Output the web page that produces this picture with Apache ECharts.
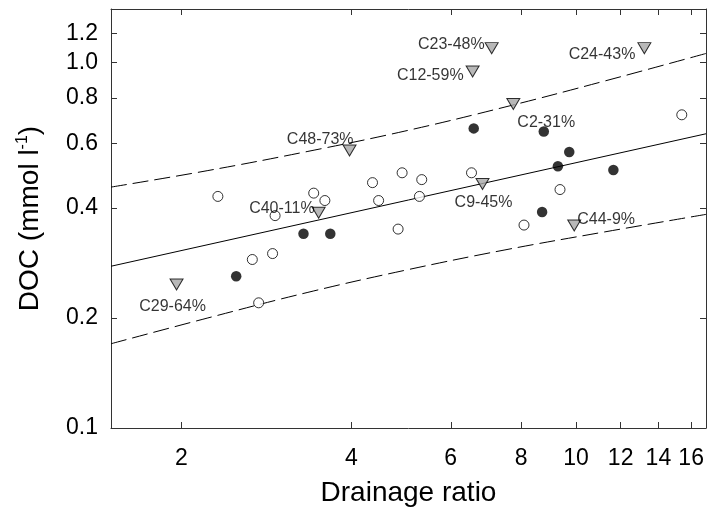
<!DOCTYPE html>
<html>
<head>
<meta charset="utf-8">
<script src="https://cdn.jsdelivr.net/npm/echarts@6/dist/echarts.min.js"></script>
<style>
html,body{margin:0;padding:0;background:#fff;}
#chart{width:707px;height:509px;}
</style>
</head>
<body>
<div id="chart"></div>
<script>
// ---- data (raw units: drainage ratio, DOC mmol/l) ----
var xTicks = [2, 4, 6, 8, 10, 12, 14, 16];
var yTicks = [0.1, 0.2, 0.4, 0.6, 0.8, 1.0, 1.2];

var openX = [2.32, 2.67, 2.74, 2.90, 2.93, 3.43, 3.59, 4.36, 4.47, 4.84, 4.92, 5.28, 5.33, 6.53, 8.09, 9.37, 15.4];
var openY = [0.430, 0.289, 0.220, 0.300, 0.381, 0.439, 0.419, 0.469, 0.419, 0.350, 0.499, 0.430, 0.478, 0.499, 0.359, 0.449, 0.719];

var filledX = [2.50, 3.29, 3.67, 6.59, 8.71, 8.77, 9.29, 9.73, 11.65];
var filledY = [0.260, 0.340, 0.340, 0.660, 0.390, 0.647, 0.520, 0.569, 0.508];

var triX = [1.96, 3.50, 3.97, 6.56, 7.09, 6.83, 7.745, 13.22, 9.93];
var triY = [0.247, 0.388, 0.574, 0.944, 1.094, 0.465, 0.770, 1.094, 0.358];
var triLabels = ['C29-64%', 'C40-11%', 'C48-73%', 'C12-59%', 'C23-48%', 'C9-45%', 'C2-31%', 'C24-43%', 'C44-9%'];

var fitX = [1.5, 17];
var fitY = [0.277, 0.638];

var upperX = [1.5, 2.227, 3.35, 4.977, 7.485, 11.26, 17];
var upperY = [0.456, 0.506, 0.571, 0.649, 0.755, 0.890, 1.058];

var lowerX = [1.5, 2.227, 3.35, 4.977, 7.485, 11.26, 17];
var lowerY = [0.170, 0.200, 0.235, 0.270, 0.307, 0.344, 0.384];

// ---- label placement (style, not data) ----
var labelPlace = {
  'C29-64%': {align: 'center', offset: [-4, 22]},
  'C40-11%': {align: 'right',  offset: [-4, -4]},
  'C48-73%': {align: 'right',  offset: [4, -11]},
  'C12-59%': {align: 'right',  offset: [-9, 4]},
  'C23-48%': {align: 'right',  offset: [-7, -4]},
  'C9-45%':  {align: 'center', offset: [1, 19]},
  'C2-31%':  {align: 'left',   offset: [4, 19]},
  'C24-43%': {align: 'right',  offset: [-9, 6]},
  'C44-9%':  {align: 'left',   offset: [3, -6]}
};

var L = Math.log10;
function pairs(xs, ys) { return xs.map(function (x, i) { return [L(x), L(ys[i])]; }); }
var font = 'Liberation Sans';

var triData = triX.map(function (x, i) {
  var p = labelPlace[triLabels[i]];
  return {
    value: [L(x), L(triY[i])],
    label: {
      show: true, formatter: triLabels[i], position: 'inside',
      align: p.align, verticalAlign: 'middle', offset: p.offset,
      color: '#000', fontSize: 16, fontFamily: font
    }
  };
});

var xMin = L(1.5), xMax = L(17), yMin = L(0.1), yMax = L(1.4);
var xTickVals = xTicks.map(L), yTickVals = yTicks.map(L);
var axisLineStyle = {color: '#333', width: 1};

var chart = echarts.init(document.getElementById('chart'));
chart.setOption({
  animation: false,
  backgroundColor: '#fff',
  grid: {left: 111, top: 9, right: 1, bottom: 81, containLabel: false, outerBoundsMode: 'none'},
  xAxis: [{
    type: 'value', position: 'bottom', min: xMin, max: xMax,
    name: 'Drainage ratio', nameLocation: 'middle', nameGap: 51,
    nameTextStyle: {fontSize: 28, color: '#000', fontFamily: font},
    axisLine: {onZero: false, lineStyle: axisLineStyle},
    axisTick: {inside: true, length: 6, customValues: xTickVals, lineStyle: axisLineStyle},
    axisLabel: {customValues: xTickVals, fontSize: 23, color: '#000', fontFamily: font, margin: 19,
      formatter: function (v) { return String(Math.round(Math.pow(10, v))); }},
    splitLine: {show: false}
  }, {
    type: 'value', position: 'top', min: xMin, max: xMax,
    axisLine: {show: true, onZero: false, lineStyle: axisLineStyle},
    axisTick: {inside: true, length: 6, customValues: xTickVals, lineStyle: axisLineStyle},
    axisLabel: {show: false}, splitLine: {show: false}
  }],
  yAxis: [{
    type: 'value', position: 'left', min: yMin, max: yMax,
    name: 'DOC (mmol l{sup|-1})', nameLocation: 'middle', nameGap: 66, nameRotate: 90,
    nameTextStyle: {fontSize: 28, color: '#000', fontFamily: font,
      rich: {sup: {fontSize: 16, color: '#000', fontFamily: font, padding: [0, 0, 14, 0]}}},
    axisLine: {onZero: false, lineStyle: axisLineStyle},
    axisTick: {inside: true, length: 6, customValues: yTickVals, lineStyle: axisLineStyle},
    axisLabel: {customValues: yTickVals, fontSize: 23, color: '#000', fontFamily: font, margin: 13,
      formatter: function (v) { return Math.pow(10, v).toFixed(1); }},
    splitLine: {show: false}
  }, {
    type: 'value', position: 'right', min: yMin, max: yMax,
    axisLine: {show: true, onZero: false, lineStyle: axisLineStyle},
    axisTick: {inside: true, length: 6, customValues: yTickVals, lineStyle: axisLineStyle},
    axisLabel: {show: false}, splitLine: {show: false}
  }],
  series: [{
    type: 'line', data: pairs(fitX, fitY), symbol: 'none',
    lineStyle: {color: '#000', width: 1}, z: 1
  }, {
    type: 'line', data: pairs(upperX, upperY), symbol: 'none', smooth: 0.4,
    lineStyle: {color: '#000', width: 1, type: [16, 6]}, z: 1
  }, {
    type: 'line', data: pairs(lowerX, lowerY), symbol: 'none', smooth: 0.4,
    lineStyle: {color: '#000', width: 1, type: [16, 6]}, z: 1
  }, {
    type: 'scatter', data: pairs(openX, openY), symbol: 'circle', symbolSize: 10,
    itemStyle: {color: '#fff', borderColor: '#000', borderWidth: 1}, z: 3
  }, {
    type: 'scatter', data: pairs(filledX, filledY), symbol: 'circle', symbolSize: 10.5,
    itemStyle: {color: '#000', borderColor: '#000', borderWidth: 0}, z: 3
  }, {
    type: 'scatter', data: triData, symbol: 'path://M0,0 L12,0 L6,10 Z', symbolSize: [13, 11],
    itemStyle: {color: '#a6a6a6', borderColor: '#000', borderWidth: 1}, z: 4
  }]
});
</script>
</body>
</html>
